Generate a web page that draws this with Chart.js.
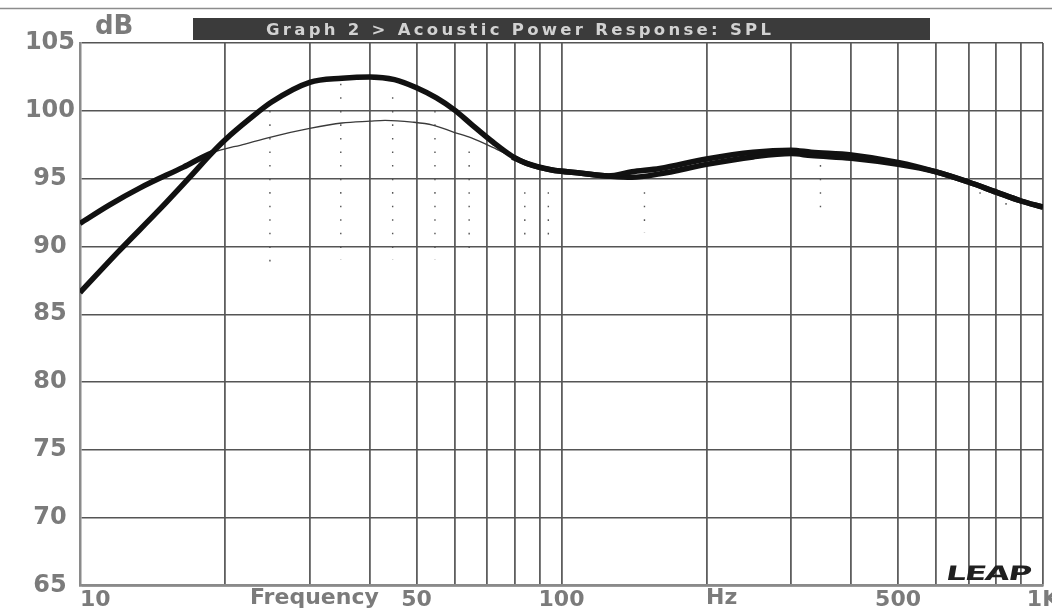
<!DOCTYPE html>
<html>
<head>
<meta charset="utf-8">
<title>Graph 2 - Acoustic Power Response</title>
<script src="https://cdn.jsdelivr.net/npm/chart.js@4.4.1/dist/chart.umd.min.js"></script>
<style>
  html, body { margin: 0; padding: 0; background: #fff; }
  #chart { display: block; }
</style>
</head>
<body>
<canvas id="chart" width="1052" height="608"></canvas>
<script>
(function(window, undefined){

  var graphTitle = 'Graph 2 > Acoustic Power Response: SPL';

  // main (boosted) response, thick
  var curveFreqs = [10, 12, 14.7, 17, 18.8, 20, 22.5, 25, 30, 35, 40, 45, 50, 55, 60, 65, 72, 79, 85, 95,
                    110, 125, 140, 160, 200, 250, 300, 330, 400, 500, 600, 700, 800, 900, 1000];
  var curveOne   = [86.6, 89.6, 92.8, 95.2, 96.9, 97.85, 99.4, 100.65, 102.1, 102.4, 102.5, 102.3, 101.7, 100.95, 100.05, 99.0, 97.7, 96.65, 96.1, 95.65,
                    95.4, 95.2, 95.5, 95.75, 96.45, 96.95, 97.1, 96.95, 96.75, 96.2, 95.5, 94.75, 94.0, 93.35, 92.9];

  // second response: thick at both ends, thin through the bass hump
  var curveTwoFreqs = [10, 11.5, 13.3, 16.4, 18.8, 22, 24.8, 30, 35, 40, 43, 49, 54, 60, 65, 72, 79, 85, 95,
                       110, 125, 140, 160, 200, 250, 300, 330, 400, 500, 600, 700, 800, 900, 1000];
  var curveTwo      = [91.7, 93.05, 94.3, 95.85, 96.9, 97.55, 98.05, 98.7, 99.1, 99.24, 99.3, 99.17, 98.95, 98.4, 98.0, 97.3, 96.6, 96.1, 95.65,
                       95.4, 95.2, 95.1, 95.35, 96.05, 96.6, 96.85, 96.7, 96.5, 96.05, 95.5, 94.75, 94.0, 93.35, 92.9];
  var thinFrom = 18.8;
  var thinTo = 79;

  // dotted marker columns
  var markerFreqs  = [24.8, 34.8, 44.6, 54.6, 64.3, 83.9, 93.9, 148.7, 345, 740, 838];
  var markerTop    = [100, 102, 101, 100, 97, 94, 94, 94, 96, 94, 93.2];
  var markerBottom = [88, 89, 89, 89, 89, 90, 90, 91, 92, 93, 93];

  var freqTicks = [10, 20, 30, 40, 50, 60, 70, 80, 90, 100, 200, 300, 400, 500, 600, 700, 800, 900, 1000];
  var labelledFreqs = [10, 50, 100, 500, 1000];
  var freqTickLabels = ['    10', '50', '100', '500', '1K'];

  var dbMin = 65;
  var dbMax = 105;
  var dbStep = 5;

  var labelGrey = '#7b7b7b';
  var tickFont = '"DejaVu Sans", Verdana, sans-serif';

  function init () {
    createChartInDom();
  }

  function toPoints (xs, ys) {
    var pts = [];
    for (var i = 0; i < xs.length; i++) {
      pts.push({x: xs[i], y: ys[i]});
    }
    return pts;
  }

  function isThin (ctx) {
    var f0 = curveTwoFreqs[ctx.p0DataIndex];
    var f1 = curveTwoFreqs[ctx.p1DataIndex];
    return f0 >= thinFrom && f1 <= thinTo;
  }

  function buildDatasets () {
    var sets = [{
      label: 'Response 1',
      data: toPoints(curveFreqs, curveOne),
      borderColor: '#111',
      borderWidth: 5.5,
      pointRadius: 0,
      cubicInterpolationMode: 'monotone'
    }, {
      label: 'Response 2',
      data: toPoints(curveTwoFreqs, curveTwo),
      borderColor: '#111',
      borderWidth: 5.5,
      pointRadius: 0,
      cubicInterpolationMode: 'monotone',
      segment: {
        borderWidth: function (ctx) { return isThin(ctx) ? 1.3 : 5.5; },
        borderColor: function (ctx) { return isThin(ctx) ? '#3a3a3a' : '#111'; }
      }
    }];

    for (var i = 0; i < markerFreqs.length; i++) {
      sets.push({
        label: 'marker ' + i,
        data: [{x: markerFreqs[i], y: markerTop[i]}, {x: markerFreqs[i], y: markerBottom[i]}],
        borderColor: '#555',
        borderWidth: 1.4,
        borderDash: [1.6, 11.95],
        pointRadius: 0,
        tension: 0
      });
    }
    return sets;
  }

  function fillSpaced (ctx, text, x, y, width) {
    ctx.letterSpacing = '0px';
    var plain = ctx.measureText(text).width;
    var gap = (width - plain) / (text.length - 1);
    ctx.letterSpacing = gap + 'px';
    ctx.fillText(text, x, y);
    ctx.letterSpacing = '0px';
  }

  function drawLogo (ctx, x, y, width) {
    ctx.save();
    ctx.font = 'bold 20px ' + tickFont;
    ctx.letterSpacing = '-1px';
    var w = ctx.measureText('LEAP').width;
    ctx.translate(x, y);
    ctx.transform(width / w, 0, -0.18, 1, 0, 0);
    ctx.fillStyle = '#202020';
    ctx.textBaseline = 'alphabetic';
    ctx.textAlign = 'left';
    ctx.fillText('LEAP', 0, 0);
    ctx.restore();
  }

  var decorations = {
    id: 'leapDecorations',
    afterDraw: function (chart) {
      var ctx = chart.ctx;
      var area = chart.chartArea;
      ctx.save();

      // rule across the top
      ctx.strokeStyle = '#8c8c8c';
      ctx.lineWidth = 1.5;
      ctx.beginPath();
      ctx.moveTo(0, 8.5);
      ctx.lineTo(chart.width, 8.5);
      ctx.stroke();

      // title bar
      ctx.fillStyle = '#3b3b3b';
      ctx.fillRect(193, 18, 737, 22);
      ctx.fillStyle = '#d2d2d2';
      ctx.font = 'bold 16.5px ' + tickFont;
      ctx.textBaseline = 'alphabetic';
      ctx.textAlign = 'left';
      fillSpaced(ctx, graphTitle, 266, 35, 505);

      // unit
      ctx.fillStyle = labelGrey;
      ctx.font = 'bold 26px ' + tickFont;
      ctx.fillText('dB', 95, 34);

      // axis words between the tick labels
      ctx.font = 'bold 22px ' + tickFont;
      ctx.textBaseline = 'top';
      ctx.fillText('Frequency', 250, area.bottom + 2);
      ctx.fillText('Hz', 706, area.bottom + 2);

      ctx.restore();

      drawLogo(ctx, 945, 580, 84);
    }
  };

  function createChartInDom () {
    var data = {
      datasets: buildDatasets()
    };

    var options = {
      responsive: false,
      animation: false,
      layout: { padding: { top: 43, right: 9, bottom: 0, left: 0 } },
      plugins: {
        legend: { display: false },
        tooltip: { enabled: false },
        title: { display: false }
      },
      scales: {
        x: {
          type: 'logarithmic',
          min: 10,
          max: 1000,
          afterBuildTicks: function (scale) {
            scale.ticks = freqTicks.map(function (v) { return {value: v}; });
          },
          afterFit: function (scale) {
            scale.height = 22.5;
            scale.paddingLeft = 0;
            scale.paddingRight = 0;
          },
          ticks: {
            autoSkip: false,
            maxRotation: 0,
            padding: 2,
            color: labelGrey,
            font: { family: tickFont, size: 22, weight: 'bold' },
            callback: function (value) {
              var idx = labelledFreqs.indexOf(value);
              return idx === -1 ? '' : freqTickLabels[idx];
            }
          },
          grid: { color: '#5e5e5e', lineWidth: 1.8, drawTicks: false },
          border: { display: true, color: '#8a8a8a', width: 2.5 }
        },
        y: {
          min: dbMin,
          max: dbMax,
          afterFit: function (scale) {
            scale.width = 80;
          },
          ticks: {
            stepSize: dbStep,
            padding: 5,
            crossAlign: 'center',
            color: labelGrey,
            font: { family: tickFont, size: 24, weight: 'bold' }
          },
          grid: { color: '#555', lineWidth: 1.5, drawTicks: false },
          border: { display: true, color: '#8a8a8a', width: 2.5 }
        }
      }
    };

    var chartSelector = document.getElementById('chart');
    var chart = new Chart(chartSelector, {type: 'line', data: data, options: options, plugins: [decorations]});
  }

  init();

})(window);
</script>
</body>
</html>
